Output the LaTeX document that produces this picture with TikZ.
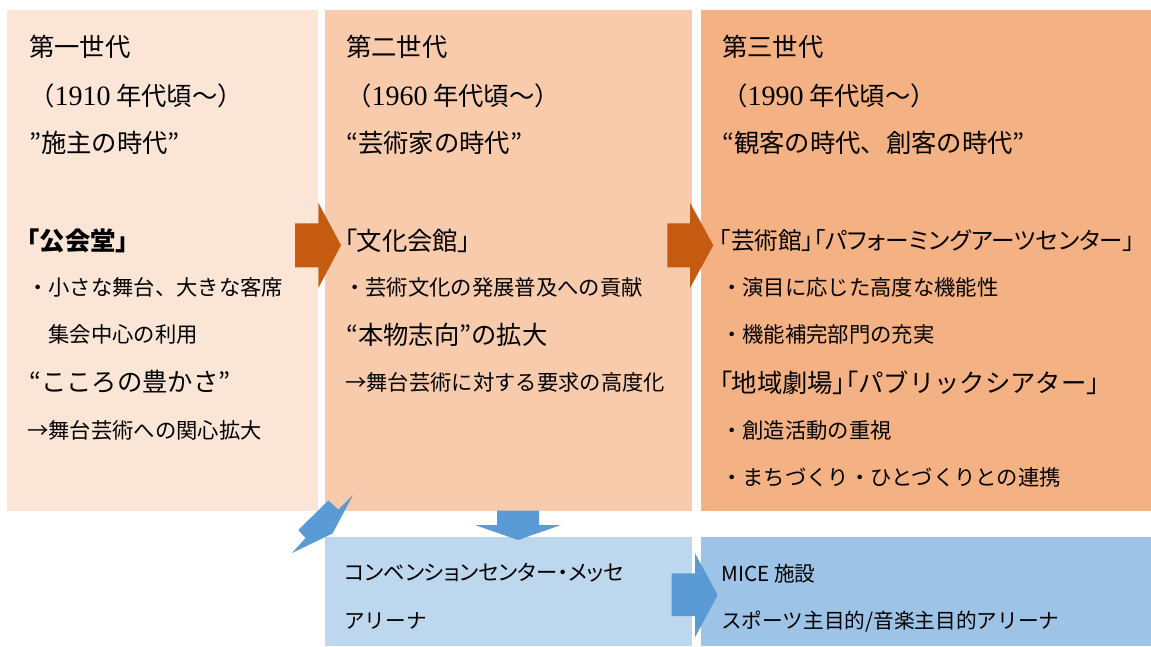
\documentclass[tikz,border=0pt]{standalone}
\usepackage{fontspec}
\setmainfont{Noto Sans CJK JP}
\newfontfamily\jpalt[RawFeature=+palt]{Noto Sans CJK JP}
\newfontfamily\sernum{Liberation Serif}
\newcommand{\lbk}{{\jpalt 「}}
\newcommand{\rbk}{{\jpalt 」}}
\newcommand{\yr}[1]{{\sernum\fontsize{21}{21}\selectfont #1}}
\definecolor{pone}{HTML}{FBE5D6}
\definecolor{ptwo}{HTML}{F8CBAD}
\definecolor{pthree}{HTML}{F4B183}
\definecolor{orarrow}{HTML}{C55A11}
\definecolor{bone}{HTML}{BDD7EE}
\definecolor{btwo}{HTML}{9DC3E6}
\definecolor{blarrow}{HTML}{5B9BD5}
\tikzset{
  ttl/.style={anchor=base west, inner sep=0pt, font=\fontsize{19}{19}\selectfont},
  bdy/.style={anchor=base west, inner sep=0pt, font=\fontsize{16}{16}\selectfont},
  btm/.style={anchor=base west, inner sep=0pt, font=\fontsize{15.5}{15.5}\selectfont},
}
\begin{document}
\begin{tikzpicture}[x=0.75pt,y=-0.75pt]
\useasboundingbox (0,0) rectangle (1151,646);
% panels
\fill[pone] (7,10) rectangle (318,511);
\fill[ptwo] (325,10) rectangle (691.5,511);
\fill[pthree] (700.5,10) rectangle (1151,511);
\fill[bone] (325,537) rectangle (691.5,646);
\fill[btwo] (700.5,537) rectangle (1151,646);
% arrows
\fill[orarrow] (295,223.3) -- (318.3,223.3) -- (318.3,202.7) -- (341,245.3) -- (318.3,288) -- (318.3,267.3) -- (295,267.3) -- cycle;
\fill[orarrow] (667.3,223.3) -- (690,223.3) -- (690,202.7) -- (713.3,245.3) -- (690,288) -- (690,267.3) -- (667.3,267.3) -- cycle;
\fill[blarrow] (497,510.5) -- (539,510.5) -- (539,525) -- (561,525) -- (518,540) -- (475,525) -- (497,525) -- cycle;
\fill[blarrow] (671.7,573.3) -- (695,573.3) -- (695,553.3) -- (717.7,595) -- (695,637.3) -- (695,616) -- (671.7,616) -- cycle;
\fill[blarrow] (292,553) -- (305.5,538) -- (298.3,530) -- (328.3,500.5) -- (338.3,509.5) -- (353,495) -- (332.5,533.5) -- cycle;
% panel 1 text
\node[ttl] (a1) at (29,56) {第一世代};
\node[ttl] (a2) at (29,105) {（\yr{1910} 年代頃～）};
\node[ttl] (a3) at (29,152) {”施主の時代”};
\node[ttl] (a4) at (27,250) {\bfseries\lbk 公会堂\rbk};
\node[bdy] (a5) at (27,295) {・小さな舞台、大きな客席};
\node[bdy] (a6) at (27,342) {　集会中心の利用};
\node[ttl] (a7) at (29,391) {“こころの豊かさ”};
\node[bdy] (a8) at (27,438) {→舞台芸術への関心拡大};
% panel 2 text
\node[ttl] (b1) at (346,56) {第二世代};
\node[ttl] (b2) at (346,105) {（\yr{1960} 年代頃～）};
\node[ttl] (b3) at (346,152) {“芸術家の時代”};
\node[ttl] (b4) at (344,250) {\lbk 文化会館\rbk};
\node[bdy] (b5) at (344,295) {・芸術文化の発展普及への貢献};
\node[ttl] (b6) at (346,344) {“本物志向”の拡大};
\node[bdy] (b7) at (345,390) {→舞台芸術に対する要求の高度化};
% panel 3 text
\node[ttl] (c1) at (722,56) {第三世代};
\node[ttl] (c2) at (722,105) {（\yr{1990} 年代頃～）};
\node[ttl] (c3) at (722,152) {“観客の時代、創客の時代”};
\node[ttl, font=\fontsize{17.7}{17.7}\selectfont] (c4) at (719,249.5) {\jpalt 「芸術館」「パフォーミングアーツセンター」};
\node[bdy] (c5) at (721,295) {・演目に応じた高度な機能性};
\node[bdy] (c6) at (721,342) {・機能補完部門の充実};
\node[ttl] (c7) at (719,392) {\lbk 地域劇場\rbk\lbk パブリックシアター\rbk};
\node[bdy] (c8) at (721,438) {・創造活動の重視};
\node[bdy] (c9) at (721,485) {・まちづくり・ひとづくりとの連携};
% bottom text
\node[btm, font=\fontsize{16}{16}\selectfont] (d1) at (344,580) {\jpalt コンベンションセンター・メッセ};
\node[btm] (d2) at (344,628) {アリーナ};
\node[btm] (e1) at (721,581) {MICE 施設};
\node[btm] (e2) at (721,628) {スポーツ主目的/音楽主目的アリーナ};
\end{tikzpicture}
\end{document}
